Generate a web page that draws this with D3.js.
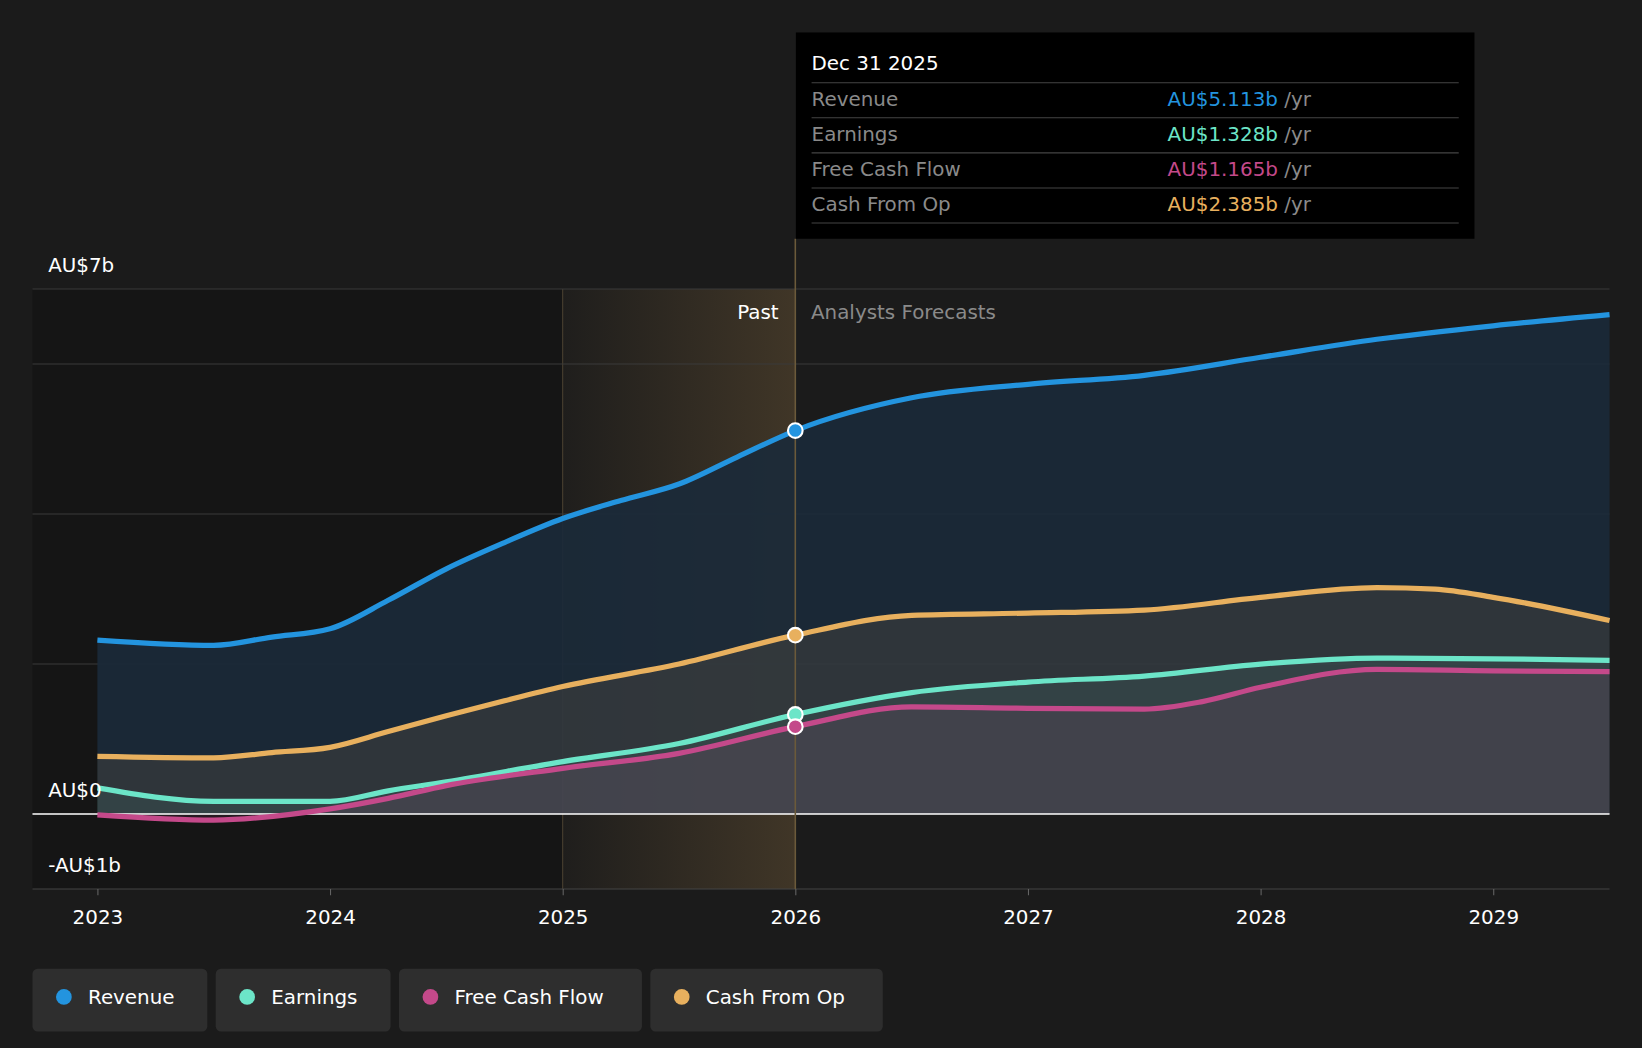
<!DOCTYPE html>
<html><head><meta charset="utf-8">
<script src="https://cdn.jsdelivr.net/npm/d3@7"></script>
<style>
body{margin:0;background:#1b1b1b;font-family:"DejaVu Sans",sans-serif;overflow:hidden;}
</style></head>
<body><svg id="chart" width="1642" height="1048"></svg>
<script>
const revenue = [[2023,2.32],[2023.5,2.25],[2023.75,2.36],[2024,2.47],[2024.25,2.85],[2024.5,3.27],[2024.75,3.62],[2025,3.94],[2025.25,4.18],[2025.5,4.40],[2025.75,4.76],[2026,5.113],[2026.5,5.55],[2027,5.73],[2027.5,5.85],[2028,6.09],[2028.5,6.33],[2029,6.51],[2029.5,6.66]];
const cashFromOp = [[2023,0.77],[2023.5,0.75],[2023.75,0.82],[2024,0.89],[2024.25,1.10],[2024.5,1.31],[2024.75,1.51],[2025,1.70],[2025.5,2.0],[2026,2.385],[2026.5,2.65],[2027,2.68],[2027.5,2.72],[2028,2.89],[2028.5,3.02],[2028.75,3.0],[2029,2.89],[2029.5,2.58]];
const earnings = [[2023,0.35],[2023.5,0.17],[2024,0.17],[2024.25,0.31],[2024.5,0.43],[2025,0.70],[2025.5,0.94],[2026,1.328],[2026.5,1.62],[2027,1.76],[2027.5,1.84],[2028,2.0],[2028.5,2.08],[2029,2.07],[2029.5,2.05]];
const freeCashFlow = [[2023,-0.01],[2023.5,-0.08],[2024,0.07],[2024.25,0.21],[2024.5,0.38],[2025,0.61],[2025.5,0.81],[2026,1.165],[2026.5,1.43],[2027,1.41],[2027.5,1.40],[2027.75,1.50],[2028,1.69],[2028.5,1.93],[2029,1.91],[2029.5,1.90]];
const years = [2023,2024,2025,2026,2027,2028,2029];
const gridVals = [7,6,4,2];
const tooltipRows = [["Revenue","AU$5.113b"],["Earnings","AU$1.328b"],["Free Cash Flow","AU$1.165b"],["Cash From Op","AU$2.385b"]];

const series = [
  {name:"Revenue", data:revenue, color:"#2394df", fill:"#1b2a3a", op:0.9},
  {name:"Cash From Op", data:cashFromOp, color:"#e8b05e", fill:"#e8b05e", op:0.1},
  {name:"Earnings", data:earnings, color:"#6ce5c8", fill:"#6ce5c8", op:0.08},
  {name:"Free Cash Flow", data:freeCashFlow, color:"#c4498a", fill:"#c4498a", op:0.1}
];
const legendOrder = ["Revenue","Earnings","Free Cash Flow","Cash From Op"];
const colorOf = n => series.find(s => s.name === n).color;

const svg = d3.select("#chart").append("g").attr("transform",`scale(${1642/1568})`);
const x = d3.scaleLinear().domain([2023,2029.5]).range([93,1537]);
const y = d3.scaleLinear().domain([-1,7]).range([849,276]);
const L = 31, R = 1537, split = x(2026), hlStart = x(2025);

// backgrounds
svg.append("rect").attr("x",L).attr("y",276).attr("width",hlStart-L).attr("height",573).attr("fill","#151515");
const defs = svg.append("defs");
const g1 = defs.append("linearGradient").attr("id","hl");
g1.append("stop").attr("offset","0%").attr("stop-color","#e8b05e").attr("stop-opacity",0.02);
g1.append("stop").attr("offset","100%").attr("stop-color","#e8b05e").attr("stop-opacity",0.18);
svg.append("rect").attr("x",hlStart).attr("y",276).attr("width",split-hlStart).attr("height",573).attr("fill","url(#hl)");
svg.append("line").attr("x1",hlStart).attr("x2",hlStart).attr("y1",276).attr("y2",849).attr("stroke","#4a4030");

gridVals.forEach(v => svg.append("line").attr("x1",L).attr("x2",R).attr("y1",y(v)).attr("y2",y(v)).attr("stroke","#3a3a3a"));
svg.append("line").attr("x1",L).attr("x2",R).attr("y1",y(-1)).attr("y2",y(-1)).attr("stroke","#444");

const area = d3.area().x(d=>x(d[0])).y0(y(0)).y1(d=>y(d[1])).curve(d3.curveMonotoneX);
const line = d3.line().x(d=>x(d[0])).y(d=>y(d[1])).curve(d3.curveMonotoneX);
series.forEach(s => svg.append("path").attr("d",area(s.data)).attr("fill",s.fill).attr("fill-opacity",s.op));
svg.append("line").attr("x1",L).attr("x2",R).attr("y1",y(0)).attr("y2",y(0)).attr("stroke","#ffffff").attr("stroke-width",1.5);
series.forEach(s => svg.append("path").attr("d",line(s.data)).attr("fill","none").attr("stroke",s.color).attr("stroke-width",5));

// y labels
[[7,"AU$7b"],[0,"AU$0"],[-1,"-AU$1b"]].forEach(([v,t]) =>
  svg.append("text").attr("x",46).attr("y",y(v)-16).attr("fill","#fff").attr("font-size",19).text(t));

// x axis
const xa = svg.append("g").attr("transform",`translate(0,${y(-1)})`)
  .call(d3.axisBottom(x).tickValues(years).tickFormat(d3.format("d")).tickSize(6));
xa.select(".domain").remove();
xa.selectAll("line").attr("stroke","#666");
xa.selectAll("text").attr("fill","#fff").attr("font-size",19).attr("dy","1.3em").attr("font-family","DejaVu Sans");

// divider & labels
svg.append("line").attr("x1",split).attr("x2",split).attr("y1",228).attr("y2",849).attr("stroke","#6b5a3a").attr("stroke-width",1.5);
svg.append("text").attr("x",split-16).attr("y",305).attr("text-anchor","end").attr("fill","#fff").attr("font-size",19).text("Past");
svg.append("text").attr("x",split+15).attr("y",305).attr("fill","#8a8a8a").attr("font-size",19).text("Analysts Forecasts");

// markers
series.forEach(s => {
  const d = s.data.find(p => p[0] === 2026);
  svg.append("circle").attr("cx",x(d[0])).attr("cy",y(d[1])).attr("r",7).attr("fill",s.color).attr("stroke","#fff").attr("stroke-width",2);
});

// tooltip
const tt = svg.append("g").attr("transform","translate(760,31)");
tt.append("rect").attr("width",648).attr("height",197).attr("fill","#000");
tt.append("text").attr("x",15).attr("y",36).attr("fill","#fff").attr("font-size",19).text("Dec 31 2025");
tooltipRows.forEach((r,i) => {
  const yy = 48 + i*33.5;
  tt.append("line").attr("x1",15).attr("x2",633).attr("y1",yy).attr("y2",yy).attr("stroke","#444");
  tt.append("text").attr("x",15).attr("y",yy+22).attr("fill","#8a8a8a").attr("font-size",19).text(r[0]);
  const t = tt.append("text").attr("x",355).attr("y",yy+22).attr("font-size",19);
  t.append("tspan").attr("fill",colorOf(r[0])).text(r[1]);
  t.append("tspan").attr("fill","#8a8a8a").text(" /yr");
});
tt.append("line").attr("x1",15).attr("x2",633).attr("y1",182).attr("y2",182).attr("stroke","#444");

// legend
const legendW = [167,167,232,222];
let lx = 31;
legendOrder.forEach((n,i) => {
  const g = svg.append("g").attr("transform",`translate(${lx},925)`);
  g.append("rect").attr("width",legendW[i]).attr("height",60).attr("rx",5).attr("fill","#2e2e2e");
  g.append("circle").attr("cx",30).attr("cy",27).attr("r",7.5).attr("fill",colorOf(n));
  g.append("text").attr("x",53).attr("y",34).attr("fill","#fff").attr("font-size",19).text(n);
  lx += legendW[i] + 8;
});
</script></body></html>
